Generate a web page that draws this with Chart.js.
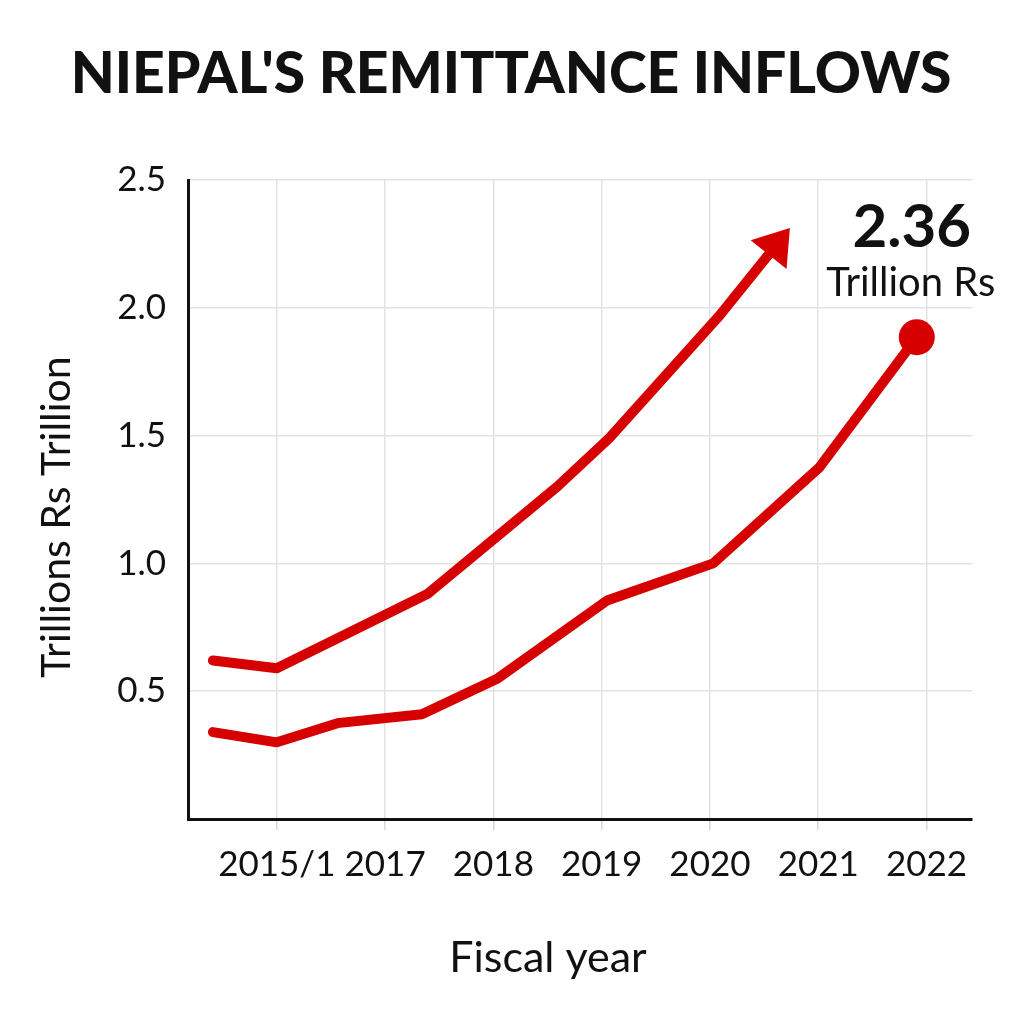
<!DOCTYPE html>
<html>
<head>
<meta charset="utf-8">
<script src="https://cdn.jsdelivr.net/npm/chart.js@4"></script>
<style>
  html, body { margin: 0; padding: 0; background: #fff; }
  #wrap { width: 1024px; height: 1024px; }
</style>
</head>
<body>
<div id="wrap"><canvas id="remitChart" width="1024" height="1024"></canvas></div>
<script>
// x positions are fiscal-year slots: 0 = 2015/1 ... 6 = 2022
const yearLabels = ['2015/1', '2017', '2018', '2019', '2020', '2021', '2022'];
const yearSlots = [0, 1, 2, 3, 4, 5, 6];

const upperX = [-0.59, 0, 1.39, 2.59, 3.07, 4.09, 4.64];
const upperY = [0.62, 0.59, 0.88, 1.30, 1.49, 1.97, 2.26];

const lowerX = [-0.59, 0, 0.56, 1.34, 2.04, 3.05, 4.03, 5.01, 5.91];
const lowerY = [0.34, 0.30, 0.375, 0.41, 0.55, 0.855, 1.00, 1.375, 1.885];

const chartTitle = "NIEPAL'S REMITTANCE INFLOWS";
const xTitle = 'Fiscal year';
const yTitle = 'Trillions Rs Trillion';
const calloutValue = '2.36';
const calloutUnit = 'Trillion Rs';

const RED = '#d60000';
const FONT = 'Lato, "Open Sans", sans-serif';

const toPoints = (xs, ys) => xs.map((x, i) => ({ x, y: ys[i] }));

// arrow head on the upper line, callout, titles
const extras = {
  id: 'extras',
  afterDatasetsDraw(chart) {
    const c = chart.ctx;
    const up = chart.getDatasetMeta(0).data;
    const p = up[up.length - 1], q = up[up.length - 2];
    let dx = p.x - q.x, dy = p.y - q.y;
    const len = Math.hypot(dx, dy);
    dx /= len; dy /= len;
    const tip = { x: p.x + dx * 17, y: p.y + dy * 17 };
    const base = { x: tip.x - dx * 34, y: tip.y - dy * 34 };
    c.save();
    c.fillStyle = RED;
    c.beginPath();
    c.moveTo(tip.x, tip.y);
    c.lineTo(base.x - dy * 23, base.y + dx * 23);
    c.lineTo(base.x + dy * 23, base.y - dx * 23);
    c.closePath();
    c.fill();
    c.restore();
  },
  afterDraw(chart) {
    const c = chart.ctx;
    const low = chart.getDatasetMeta(1).data;
    const dot = low[low.length - 1];
    c.save();
    c.fillStyle = '#111';
    c.textAlign = 'center';
    c.textBaseline = 'middle';

    c.font = '900 57px ' + FONT;
    c.fillText(chartTitle, 511, 75);

    c.font = 'bold 60px ' + FONT;
    c.fillText(calloutValue, dot.x - 5, dot.y - 110);
    c.font = '40px ' + FONT;
    c.fillText(calloutUnit, dot.x - 6, dot.y - 54);

    c.font = '43px ' + FONT;
    c.fillText(xTitle, 548, 958);
    c.translate(57, 517);
    c.rotate(-Math.PI / 2);
    c.font = '41px ' + FONT;
    c.fillText(yTitle, 0, 0);
    c.restore();
  }
};

new Chart(document.getElementById('remitChart'), {
  type: 'line',
  data: {
    datasets: [
      {
        data: toPoints(upperX, upperY),
        borderColor: RED,
        borderWidth: 10,
        borderCapStyle: 'round',
        borderJoinStyle: 'round',
        pointRadius: 0,
        tension: 0
      },
      {
        data: toPoints(lowerX, lowerY),
        borderColor: RED,
        backgroundColor: RED,
        borderWidth: 10,
        borderCapStyle: 'round',
        borderJoinStyle: 'round',
        pointRadius: ctx => ctx.dataIndex === lowerX.length - 1 ? 18 : 0,
        pointBorderWidth: 0,
        tension: 0
      }
    ]
  },
  options: {
    responsive: false,
    animation: false,
    layout: { padding: { left: 0, right: 52, top: 180, bottom: 0 } },
    plugins: {
      legend: { display: false },
      tooltip: { enabled: false },
      title: { display: false }
    },
    scales: {
      x: {
        type: 'linear',
        min: -0.82,
        max: 6.42,
        afterBuildTicks: s => { s.ticks = yearSlots.map(v => ({ value: v })); },
        afterFit: s => { s.height = 205; },
        grid: { color: '#e2e2e2', lineWidth: 1.5, tickLength: 11, tickColor: '#d8d8d8' },
        border: { display: true, color: '#111', width: 3 },
        ticks: {
          callback: v => yearLabels[v] ?? '',
          color: '#111',
          font: { family: FONT, size: 35 },
          padding: 14,
          maxRotation: 0,
          autoSkip: false
        }
      },
      y: {
        min: 0,
        max: 2.5,
        afterFit: s => { s.width = 188; },
        grid: { color: '#e2e2e2', lineWidth: 1.5, drawTicks: false },
        border: { display: true, color: '#111', width: 3 },
        ticks: {
          stepSize: 0.5,
          callback: v => v === 0 ? '' : v.toFixed(1),
          color: '#111',
          font: { family: FONT, size: 35 },
          padding: 22
        }
      }
    }
  },
  plugins: [extras]
});
</script>
</body>
</html>
